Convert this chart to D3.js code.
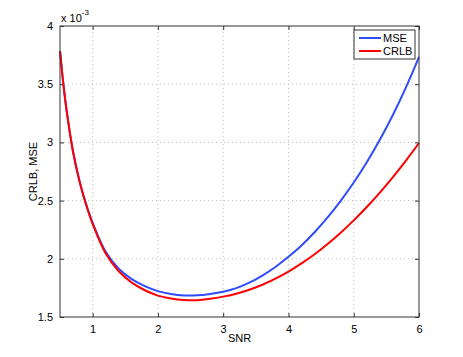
<!DOCTYPE html>
<html>
<head>
<meta charset="utf-8">
<script src="https://cdn.jsdelivr.net/npm/d3@7"></script>
<style>
  body { margin: 0; background: #fff; }
  text { font-family: "Liberation Sans", Arial, sans-serif; fill: #000; }
  .grid line { stroke: #bbb; stroke-dasharray: 1,3; }
</style>
</head>
<body>
<script>
// SNR sample points
var snr = [0.5, 0.55, 0.6, 0.7, 0.8, 0.9, 1.0, 1.2, 1.4, 1.6, 1.8, 2.0, 2.2, 2.4, 2.6, 2.8,
           3.0, 3.2, 3.4, 3.6, 3.8, 4.0, 4.2, 4.4, 4.6, 4.8, 5.0, 5.2, 5.4, 5.6, 5.8, 6.0];
// values in units of 1e-3
var mse  = [3.785, 3.51, 3.28, 2.92, 2.665, 2.47, 2.31, 2.06, 1.915, 1.825, 1.765, 1.722, 1.697, 1.685, 1.686, 1.698,
            1.717, 1.748, 1.795, 1.856, 1.93, 2.017, 2.115, 2.228, 2.355, 2.497, 2.655, 2.83, 3.023, 3.235, 3.472, 3.735];
var crlb = [3.785, 3.51, 3.28, 2.92, 2.665, 2.465, 2.30, 2.045, 1.893, 1.795, 1.73, 1.684, 1.658, 1.645, 1.644, 1.656,
            1.675, 1.70, 1.734, 1.777, 1.829, 1.89, 1.96, 2.039, 2.127, 2.224, 2.33, 2.445, 2.569, 2.702, 2.844, 2.995];
var xTicks = [1, 2, 3, 4, 5, 6];
var yTicks = [1.5, 2, 2.5, 3, 3.5, 4];

var W = 463, H = 357;
var m = {left: 60, right: 44, top: 26, bottom: 40};

var svg = d3.select("body").append("svg")
  .attr("width", W).attr("height", H);

var x = d3.scaleLinear().domain([0.5, 6]).range([m.left, W - m.right]);
var y = d3.scaleLinear().domain([1.5, 4]).range([H - m.bottom, m.top]);

// grid
var grid = svg.append("g").attr("class", "grid");
grid.selectAll(".gx").data(xTicks.filter(function(d) { return d < 6; }))
  .enter().append("line")
  .attr("x1", function(d) { return x(d); }).attr("x2", function(d) { return x(d); })
  .attr("y1", y(1.5)).attr("y2", y(4));
grid.selectAll(".gy").data(yTicks.filter(function(d) { return d > 1.5 && d < 4; }))
  .enter().append("line")
  .attr("y1", function(d) { return y(d); }).attr("y2", function(d) { return y(d); })
  .attr("x1", x(0.5)).attr("x2", x(6));

// axes (ticks inside, mirrored)
function styleAxis(g) {
  g.select(".domain").remove();
  g.selectAll(".tick line").attr("stroke", "#333");
  g.selectAll(".tick text").style("font-size", "11px")
    .style("font-family", "Liberation Sans, Arial, sans-serif");
}
svg.append("g").attr("transform", "translate(0," + y(1.5) + ")")
  .call(d3.axisBottom(x).tickValues(xTicks).tickSizeInner(-4).tickPadding(8).tickFormat(d3.format("d")))
  .call(styleAxis);
svg.append("g").attr("transform", "translate(0," + y(4) + ")")
  .call(d3.axisTop(x).tickValues(xTicks).tickSizeInner(-4).tickFormat(""))
  .call(styleAxis);
svg.append("g").attr("transform", "translate(" + x(0.5) + ",0)")
  .call(d3.axisLeft(y).tickValues(yTicks).tickSizeInner(-4).tickPadding(7).tickFormat(d3.format("~g")))
  .call(styleAxis);
svg.append("g").attr("transform", "translate(" + x(6) + ",0)")
  .call(d3.axisRight(y).tickValues(yTicks).tickSizeInner(-4).tickFormat(""))
  .call(styleAxis);

// curves
var line = function(vals) {
  return d3.line()
    .x(function(d, i) { return x(snr[i]); })
    .y(function(d) { return y(d); })
    .curve(d3.curveCatmullRom.alpha(0.5))(vals);
};
svg.append("path").attr("d", line(mse))
  .attr("fill", "none").attr("stroke", "#2f4cff").attr("stroke-width", 2);
svg.append("path").attr("d", line(crlb))
  .attr("fill", "none").attr("stroke", "#f00").attr("stroke-width", 2);

// frame
svg.append("rect")
  .attr("x", x(0.5)).attr("y", y(4))
  .attr("width", x(6) - x(0.5)).attr("height", y(1.5) - y(4))
  .attr("fill", "none").attr("stroke", "#333").attr("stroke-width", 1);

// exponent label
var ex = svg.append("text").attr("x", x(0.5) + 1).attr("y", 22).style("font-size", "11px");
ex.append("tspan").text("x 10");
ex.append("tspan").attr("dy", -7).style("font-size", "8px").text("-3");

// axis labels
svg.append("text").attr("x", (x(0.5) + x(6)) / 2).attr("y", 342)
  .attr("text-anchor", "middle").style("font-size", "11px").text("SNR");
svg.append("text")
  .attr("transform", "translate(37," + (y(1.5) + y(4)) / 2 + ") rotate(-90)")
  .attr("text-anchor", "middle").style("font-size", "11px").text("CRLB, MSE");

// legend
var lg = svg.append("g").attr("transform", "translate(354,30)");
lg.append("rect").attr("width", 61).attr("height", 29)
  .attr("fill", "#fff").attr("stroke", "#333");
var items = [["MSE", "#2f4cff"], ["CRLB", "#f00"]];
items.forEach(function(it, i) {
  var yy = 8 + i * 13;
  lg.append("line").attr("x1", 5).attr("x2", 27).attr("y1", yy).attr("y2", yy)
    .attr("stroke", it[1]).attr("stroke-width", 2);
  lg.append("text").attr("x", 29).attr("y", yy + 4).style("font-size", "11px").text(it[0]);
});
</script>
</body>
</html>
